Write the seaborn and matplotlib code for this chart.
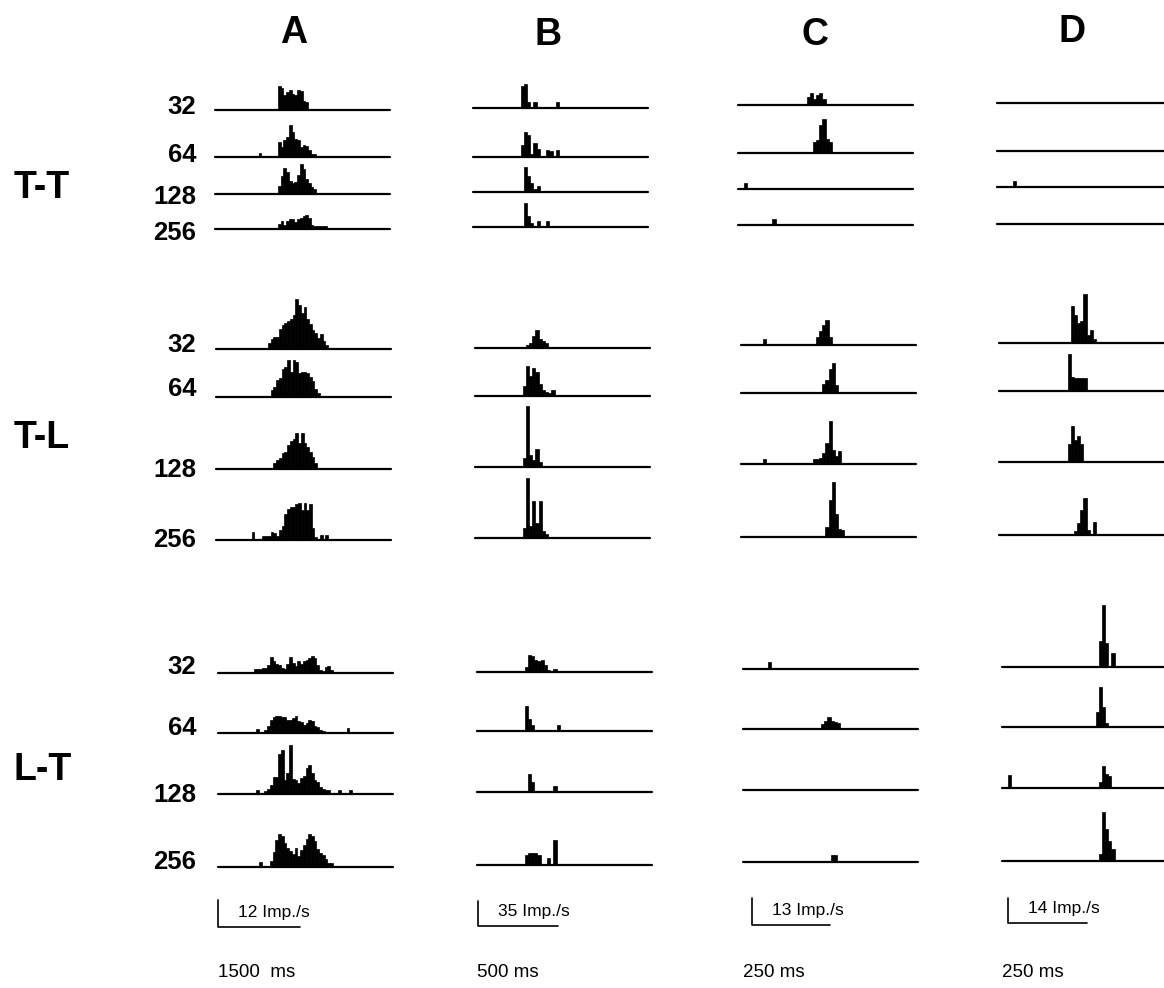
import numpy as np
import pandas as pd
import seaborn as sns
import matplotlib.pyplot as plt

sns.set_style("white")
plt.rcParams['font.family'] = ['Liberation Sans', 'DejaVu Sans']
plt.rcParams['text.color'] = 'black'

W, H = 1164, 988

columns = ["A", "B", "C", "D"]
groups = ["T-T", "T-L", "L-T"]
rates = [32, 64, 128, 256]

# per column: bin width, shown time span, scale bars
bin_ms = [50, 20, 10, 10]
span_ms = [3200, 1100, 560, 555]
scale_imp = [12, 35, 13, 14]
scale_ms = [1500, 500, 250, 250]
scale_ms_label = ["1500  ms", "500 ms", "250 ms", "250 ms"]

# PSTH bins in Imp./s, given as (first bin index, [bin values ...]) segments
a_tt = {
    32: [(23, [10.7, 9.8, 6.7, 8, 8.9, 7.1, 6.7, 8.9, 8.4, 4, 3.6])],
    64: [(16, [1.8]), (23, [6.7, 4.4, 7.6, 8.9, 14.2, 11.1, 8, 7.6, 4.4, 5.3, 4.9, 3.1, 1.3, 1.3])],
    128: [(23, [3.6, 8, 11.6, 9.8, 5.8, 4.9, 5.3, 8.4, 13.3, 11.1, 6.7, 4.9, 3.1, 2.2])],
    256: [(23, [2.2, 3.6, 1.8, 3.6, 4.4, 4.4, 3.1, 4.4, 4.9, 5.8, 6.2, 4.9, 1.8, 1.3, 1.3, 1.3, 1.3, 1.3])],
}
a_tl = {
    32: [(19, [2.7, 4.4, 5.3, 5.3, 8.9, 10.7, 11.6, 12.4, 13.3, 15.1, 22.2, 19.6, 16, 18.7, 13.3,
               11.1, 8.4, 7.1, 4.9, 6.7, 3.6, 1.8])],
    64: [(20, [3.1, 4.4, 7.6, 8.4, 12.4, 13.3, 16.4, 11.1, 16.4, 15.6, 10.7, 11.1, 11.1, 10.7, 8.9,
               7.1, 3.6, 1.8])],
    128: [(21, [2.7, 4, 4.9, 7.1, 7.6, 10.7, 12.4, 13.3, 16, 11.6, 16, 11.6, 9.8, 7.6, 5.3, 2.7])],
    256: [(13, [3.6]), (17, [1.8, 1.8, 1.8, 3.6, 3.1, 1.8, 4.4, 6.2, 11.6, 13.8, 14.7, 14.7, 16, 16.4,
                             13.3, 16.4, 13.3, 16, 5.3, 1.3, 0, 2.2, 0, 2.2])],
}
a_lt = {
    32: [(13, [1.8, 1.8, 1.8, 2.2, 2.2, 3.6, 7.1, 5.3, 4, 3.6, 2.2, 1.8, 4, 7.1, 4.4, 3.1, 5.3, 4,
               5.3, 5.8, 6.7, 7.6, 6.7, 3.6, 1.3, 0.9, 2.7, 3.1, 1.3])],
    64: [(14, [1.8]), (17, [1.3, 3.1, 5.8, 7.1, 7.6, 7.6, 7.1, 7.1, 5.8, 5.8, 6.7, 7.6, 5.3, 4.9, 3.6,
                            4.4, 5.8, 5.3, 3.1, 2.7, 1.3, 0.9]), (47, [2.2])],
    128: [(14, [1.8]), (17, [1.3, 2.2, 4, 7.6, 7.6, 17.8, 19.6, 6.2, 9.3, 21.8, 6.7, 6.2, 4.9, 7.1, 8,
                             11.6, 12.9, 9.3, 6.2, 5.3, 3.1, 2.2, 1.8, 1.8]), (44, [1.8]), (48, [1.8])],
    256: [(15, [2.2]), (19, [2.7, 6.7, 12, 14.7, 13.8, 10.7, 8.4, 7.1, 5.8, 8.4, 4.9, 7.6, 9.8, 12.4,
                             14.7, 13.8, 11.6, 8, 6.2, 5.3, 3.6, 1.8, 1.8])],
}

b_tt = {
    32: [(15, [30.8, 33.6, 8.4]), (19, [8.4]), (26, [8.4])],
    64: [(15, [16.8, 35, 30.8, 4.2, 19.6, 11.2]), (23, [9.8, 8.4]), (26, [9.8])],
    128: [(16, [35, 22.4, 12.6, 4.2, 8.4])],
    256: [(16, [33.6, 15.4, 5.6]), (20, [8.4]), (23, [8.4])],
}
b_tl = {
    32: [(16, [4.2, 7, 16.8, 25.2, 12.6, 9.8, 7])],
    64: [(15, [14, 42, 28, 39.2, 33.6, 16.8, 8.4, 5.6, 4.2, 8.4])],
    128: [(15, [12.6, 85.4, 16.8, 9.8, 25.2, 7])],
    256: [(15, [14, 84, 16.8, 51.8, 21, 51.8, 9.8, 5.6])],
}
b_lt = {
    32: [(15, [7, 23.8, 22.4, 16.8, 15.4, 16.8, 9.8, 2.8]), (24, [4.2])],
    64: [(15, [35, 16.8, 8.4]), (25, [8.4])],
    128: [(16, [25.2, 14]), (24, [8.4])],
    256: [(15, [14, 16.8, 16.8, 16.8, 14]), (22, [9.8]), (24, [35])],
}

c_tt = {
    32: [(22, [3.8, 5.8, 2.9, 4.8, 5.8, 2.9])],
    64: [(24, [5.3, 6.2, 13.4, 16.3, 6.7, 5.3])],
    128: [(2, [2.9])],
    256: [(11, [2.9])],
}
c_tl = {
    32: [(7, [2.9]), (24, [3.8, 6.7, 9.6, 12, 3.8])],
    64: [(26, [4.3, 6.2, 11.5, 14.4, 3.8])],
    128: [(7, [2.4]), (23, [2.4, 2.4, 2.9, 5.3, 10.1, 20.6, 6.7, 3.8, 6.2])],
    256: [(27, [4.8, 17.8, 26.4, 11, 3.8, 3.4])],
}
c_lt = {
    32: [(8, [3.4])],
    64: [(25, [2.4, 3.8, 5.8, 3.8, 3.4, 2.9])],
    128: [],
    256: [(28, [3.4, 3.4])],
}

d_tt = {
    32: [],
    64: [],
    128: [(5, [3.4])],
    256: [],
}
d_tl = {
    32: [(23, [20.7, 15.7, 11.2, 12.3, 27.4, 4.5, 7.3, 2.2])],
    64: [(22, [20.7, 7.8, 7.3, 7.3, 7.3, 7.3])],
    128: [(22, [10.1, 20.2, 12.3, 14.6, 10.1])],
    256: [(24, [2.2, 6.7, 14, 20.7, 2.8]), (30, [7.3])],
}
d_lt = {
    32: [(31, [14.6, 34.7, 13.4]), (35, [7.8])],
    64: [(30, [8.4, 22.4, 11.2, 2.2])],
    128: [(2, [7.3]), (31, [3.4, 12.3, 7.8, 6.7])],
    256: [(31, [3.9, 27.4, 17.9, 11.2, 6.7])],
}

psth = [[a_tt, a_tl, a_lt], [b_tt, b_tl, b_lt], [c_tt, c_tl, c_lt], [d_tt, d_tl, d_lt]]

# layout in pixels of the page
px_per_imp = [2.25, 0.714, 2.08, 1.79]
line_len = 175
panel_h = 80
col_left = [[215, 216, 218], [473, 475, 477], [738, 741, 743], [997, 999, 1002]]
base_y = [
    [[110, 157, 194, 229], [349, 397, 469, 540], [673, 733, 794, 867]],
    [[108, 157, 192, 227], [348, 396, 467, 538], [672, 731, 792, 865]],
    [[105, 153, 189, 225], [345, 393, 464, 537], [669, 729, 790, 862]],
    [[103, 151, 187, 224], [343, 391, 462, 535], [667, 727, 788, 861]],
]
rate_label_y = [[107, 155, 197, 233], [345, 389, 470, 540], [667, 728, 795, 862]]
group_label_y = [188, 438, 770]
header_xy = [(294, 33), (548, 35), (815, 35), (1072, 32)]
scale_xy = [(218, 927), (478, 926), (752, 925), (1008, 923)]


def draw_psth(ax, segments, binw, span):
    t, h = [], []
    for start, vals in segments:
        for i, v in enumerate(vals):
            if v > 0:
                t.append((start + i + 0.5) * binw)
                h.append(v)
    if t:
        sns.histplot(x=t, weights=h, binwidth=binw, binrange=(0, span), color="black",
                     alpha=1, edgecolor="black", linewidth=0.5, ax=ax)
    ax.axhline(0, color="black", lw=1.6, clip_on=False)


fig = plt.figure(figsize=(W / 100, H / 100), dpi=100)

for c in range(4):
    for g in range(3):
        for r, rate in enumerate(rates):
            by = base_y[c][g][r]
            ax = fig.add_axes([col_left[c][g] / W, 1 - by / H, line_len / W, panel_h / H])
            draw_psth(ax, psth[c][g][rate], bin_ms[c], span_ms[c])
            ax.set_xlim(0, span_ms[c])
            ax.set_ylim(0, panel_h / px_per_imp[c])
            ax.set_axis_off()

    # scale bar
    sx, sy = scale_xy[c]
    ms_per_px = span_ms[c] / line_len
    sax = fig.add_axes([sx / W, 1 - sy / H, 100 / W, 40 / H])
    sax.plot([0, 0, scale_ms[c]], [scale_imp[c], 0, 0], color="black", lw=1.2, clip_on=False)
    sax.set_xlim(0, 100 * ms_per_px)
    sax.set_ylim(0, 40 / px_per_imp[c])
    sax.set_axis_off()
    fig.text((sx + 20) / W, 1 - (sy - 15) / H, f"{scale_imp[c]} Imp./s", fontsize=12.5,
             ha="left", va="center")
    fig.text((col_left[c][2]) / W, 1 - 972 / H, scale_ms_label[c], fontsize=13.5,
             ha="left", va="center")

    hx, hy = header_xy[c]
    fig.text(hx / W, 1 - hy / H, columns[c], fontsize=27, fontweight="bold",
             ha="center", va="center")

for g in range(3):
    fig.text(14 / W, 1 - group_label_y[g] / H, groups[g], fontsize=27, fontweight="bold",
             ha="left", va="center")
    for r, rate in enumerate(rates):
        fig.text(196 / W, 1 - rate_label_y[g][r] / H, str(rate), fontsize=18.5, fontweight="bold",
                 ha="right", va="center")

fig.savefig("out.png", dpi=100, facecolor="white")
